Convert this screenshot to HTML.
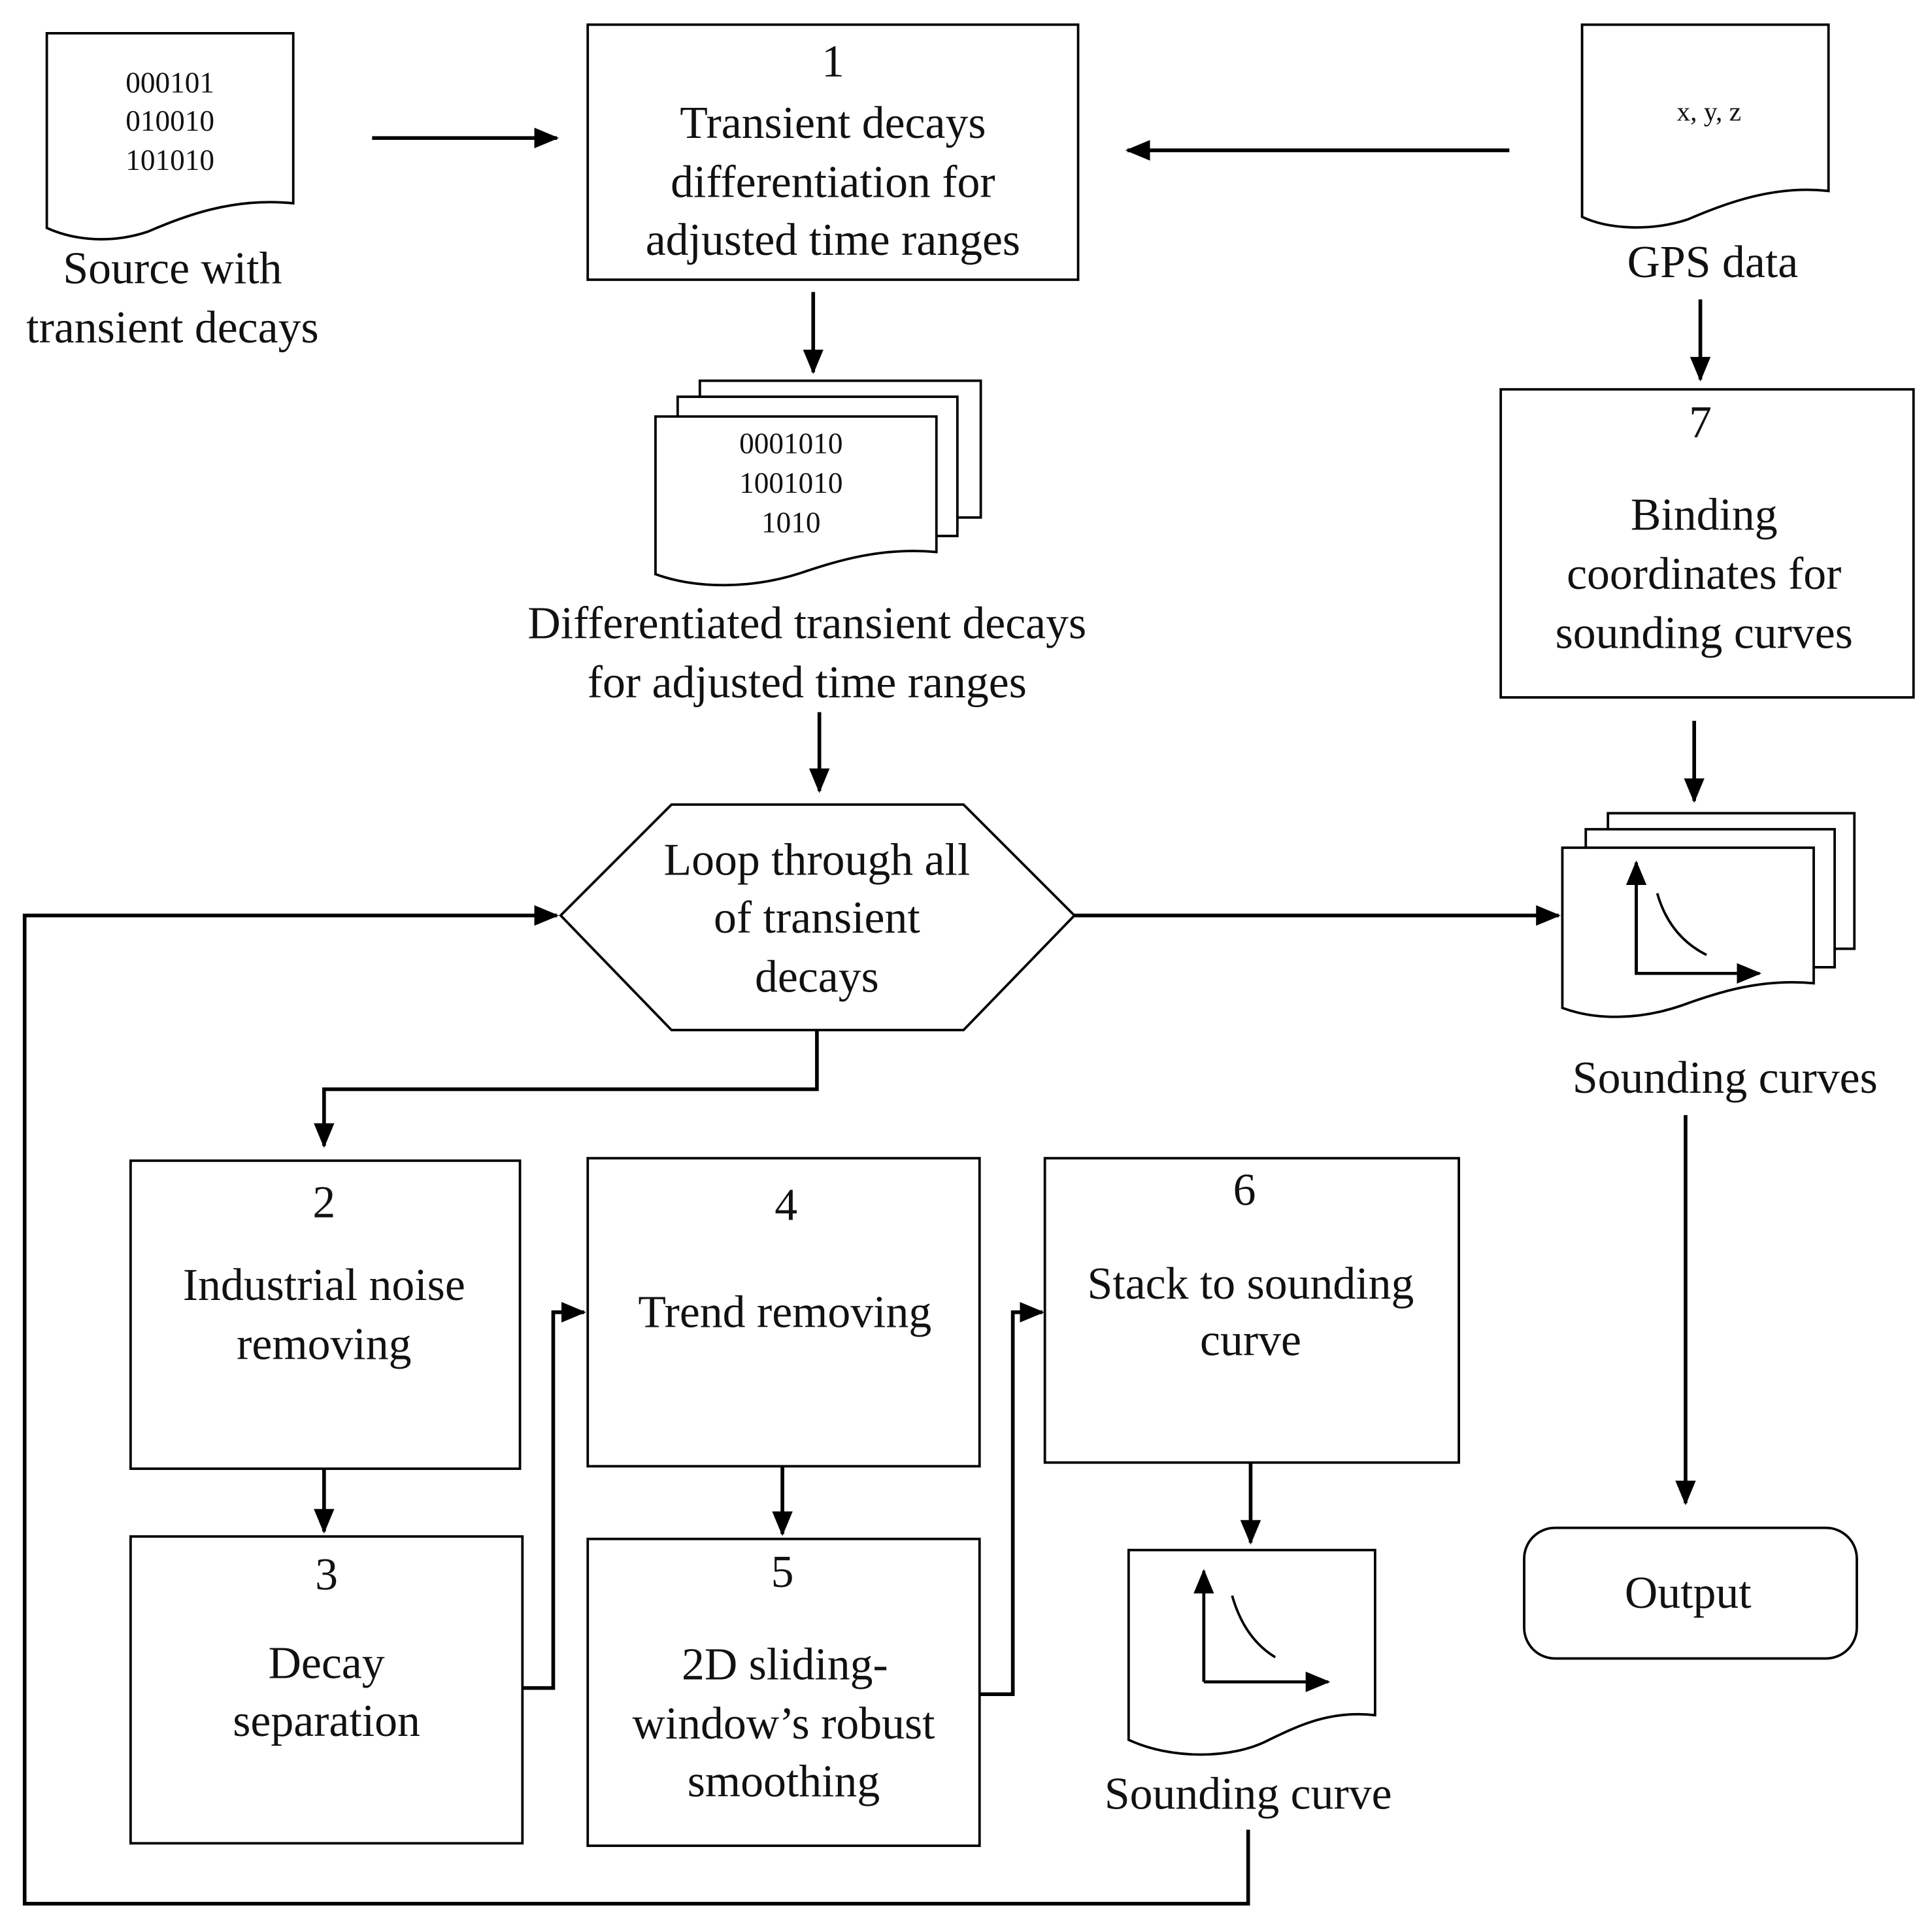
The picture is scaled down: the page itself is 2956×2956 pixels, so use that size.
<!DOCTYPE html>
<html><head><meta charset="utf-8"><style>
html,body{margin:0;padding:0;background:#fff}
svg{display:block}
text{font-family:"Liberation Serif",serif;fill:#111;text-anchor:middle}
.b{font-size:37px}
.s{font-size:24px}
</style></head><body>
<svg width="2956" height="2956" viewBox="0 0 1568 1568" preserveAspectRatio="none" xmlns="http://www.w3.org/2000/svg">
<defs>
<marker id="a" viewBox="0 0 10 10" refX="9" refY="5" markerWidth="6" markerHeight="6" orient="auto" markerUnits="userSpaceOnUse">
</marker>
<marker id="ar" viewBox="0 0 12 10" refX="11" refY="5" markerWidth="20" markerHeight="17" orient="auto" markerUnits="userSpaceOnUse"><path d="M0,0 L12,5 L0,10 z" fill="#000"/></marker>
</defs>
<g fill="#fff" stroke="#000" stroke-width="2">
<!-- doc 1 -->
<path d="M38,27 H238 V165 C190,160 150,175 120,188 C90,198 60,195 38,185 Z"/>
<!-- box1 -->
<rect x="477" y="20" width="398" height="207"/>
<!-- GPS doc -->
<path d="M1284,20 H1484 V155 C1440,150 1400,165 1370,178 C1340,188 1305,186 1284,176 Z"/>
<rect x="1218" y="316" width="335" height="250"/>
<!-- stack top right -->
<rect x="1305" y="660" width="200" height="110"/>
<rect x="1287" y="673" width="202" height="112"/>
<path d="M1268,688 H1472 V798 C1430,794 1395,805 1365,816 C1330,828 1295,828 1268,818 Z"/>
<rect x="1237" y="1240" width="270" height="106" rx="25"/>
<!-- stack middle -->
<rect x="568" y="309" width="228" height="111"/>
<rect x="550" y="322" width="227" height="113"/>
<path d="M532,338 H760 V448 C715,444 680,455 650,465 C610,478 565,478 532,466 Z"/>
<polygon points="455,743 545,653 782,653 872,743 782,836 545,836"/>
<rect x="106" y="942" width="316" height="250"/>
<rect x="106" y="1247" width="318" height="249"/>
<rect x="477" y="940" width="318" height="250"/>
<rect x="477" y="1249" width="318" height="249"/>
<rect x="848" y="940" width="336" height="247"/>
<path d="M916,1258 H1116 V1392 C1080,1388 1055,1400 1030,1412 C1000,1428 950,1428 916,1412 Z"/>
</g>
<g fill="none" stroke="#000" stroke-width="3">
<line x1="302" y1="112" x2="452" y2="112" marker-end="url(#ar)"/>
<line x1="1225" y1="122" x2="915" y2="122" marker-end="url(#ar)"/>
<line x1="1380" y1="243" x2="1380" y2="308" marker-end="url(#ar)"/>
<line x1="1375" y1="585" x2="1375" y2="650" marker-end="url(#ar)"/>
<line x1="1368" y1="905" x2="1368" y2="1220" marker-end="url(#ar)"/>
<line x1="660" y1="237" x2="660" y2="302" marker-end="url(#ar)"/>
<line x1="665" y1="578" x2="665" y2="642" marker-end="url(#ar)"/>
<line x1="872" y1="743" x2="1265" y2="743" marker-end="url(#ar)"/>
<polyline points="663,836 663,884 263,884 263,930" marker-end="url(#ar)"/>
<line x1="263" y1="1192" x2="263" y2="1243" marker-end="url(#ar)"/>
<polyline points="424,1370 449,1370 449,1065 474,1065" marker-end="url(#ar)"/>
<line x1="635" y1="1190" x2="635" y2="1245" marker-end="url(#ar)"/>
<polyline points="795,1375 822,1375 822,1065 846,1065" marker-end="url(#ar)"/>
<line x1="1015" y1="1187" x2="1015" y2="1252" marker-end="url(#ar)"/>
<polyline points="1013,1485 1013,1545 20,1545 20,743 452,743" marker-end="url(#ar)"/>
<!-- axes -->
<polyline points="1328,700 1328,790 1428,790" stroke-width="2.5" marker-end="url(#ar)"/>
<line x1="1328" y1="790" x2="1328" y2="700" stroke-width="2.5" marker-end="url(#ar)"/>
<path d="M1345,725 Q1355,760 1385,775" stroke-width="2"/>
<polyline points="977,1365 1078,1365" stroke-width="2.5" marker-end="url(#ar)"/>
<line x1="977" y1="1365" x2="977" y2="1275" stroke-width="2.5" marker-end="url(#ar)"/>
<path d="M1000,1295 Q1010,1330 1035,1345" stroke-width="2"/>
</g>
<g>
<text class="s" x="138" y="75">000101</text>
<text class="s" x="138" y="106">010010</text>
<text class="s" x="138" y="138">101010</text>
<text class="b" x="140" y="230">Source with</text>
<text class="b" x="140" y="278">transient decays</text>
<text class="b" x="676" y="62">1</text>
<text class="b" x="676" y="112">Transient decays</text>
<text class="b" x="676" y="160">differentiation for</text>
<text class="b" x="676" y="207">adjusted time ranges</text>
<text class="s" x="1387" y="98" style="font-size:22px">x, y, z</text>
<text class="b" x="1390" y="225">GPS data</text>
<text class="b" x="1380" y="355">7</text>
<text class="b" x="1383" y="430">Binding</text>
<text class="b" x="1383" y="478">coordinates for</text>
<text class="b" x="1383" y="526">sounding curves</text>
<text class="b" x="1400" y="887">Sounding curves</text>
<text class="b" x="1370" y="1305">Output</text>
<text class="s" x="642" y="368">0001010</text>
<text class="s" x="642" y="400">1001010</text>
<text class="s" x="642" y="432">1010</text>
<text class="b" x="655" y="518">Differentiated transient decays</text>
<text class="b" x="655" y="566">for adjusted time ranges</text>
<text class="b" x="663" y="710">Loop through all</text>
<text class="b" x="663" y="757">of transient</text>
<text class="b" x="663" y="805">decays</text>
<text class="b" x="263" y="988">2</text>
<text class="b" x="263" y="1055">Industrial noise</text>
<text class="b" x="263" y="1103">removing</text>
<text class="b" x="265" y="1290">3</text>
<text class="b" x="265" y="1362">Decay</text>
<text class="b" x="265" y="1409">separation</text>
<text class="b" x="638" y="990">4</text>
<text class="b" x="637" y="1077">Trend removing</text>
<text class="b" x="635" y="1288">5</text>
<text class="b" x="637" y="1363">2D sliding-</text>
<text class="b" x="636" y="1411">window’s robust</text>
<text class="b" x="636" y="1458">smoothing</text>
<text class="b" x="1010" y="978">6</text>
<text class="b" x="1015" y="1054">Stack to sounding</text>
<text class="b" x="1015" y="1100">curve</text>
<text class="b" x="1013" y="1468">Sounding curve</text>
</g>
</svg>
</body></html>
